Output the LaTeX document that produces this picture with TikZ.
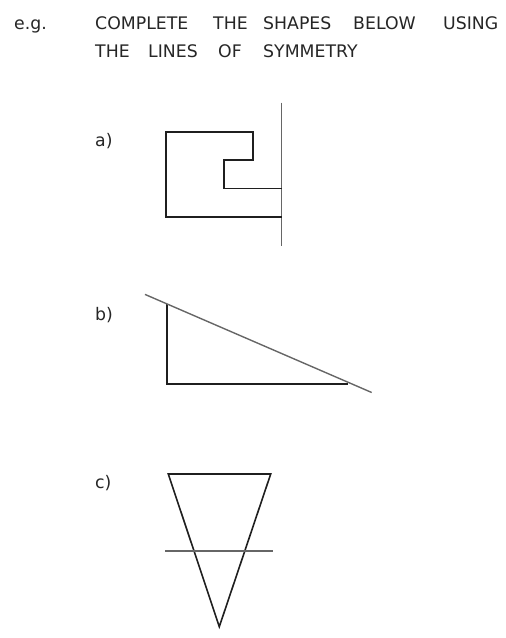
\documentclass[tikz,border=0pt]{standalone}
\usepackage{fontspec}
\setmainfont{DejaVu Sans}
\begin{document}
\begin{tikzpicture}[x=1pt,y=-1pt,
  word/.style={anchor=base west,inner sep=0pt,font=\fontsize{17.3}{20}\selectfont,text=black!85},
  outline/.style={draw=black!88,line width=1.6pt,line join=miter},
  symline/.style={draw=black!60,line width=1.4pt}]
\useasboundingbox (0,0) rectangle (506,638);
% title
\node[word] (eg) at (14,29.3) {e.g.};
\node[word] (w1) at (95,29.3) {COMPLETE};
\node[word] (w2) at (213,29.3) {THE};
\node[word] (w3) at (263,29.3) {SHAPES};
\node[word] (w4) at (353,29.3) {BELOW};
\node[word] (w5) at (443,29.3) {USING};
\node[word] (w6) at (95,57.3) {THE};
\node[word] (w7) at (148,57.3) {LINES};
\node[word] (w8) at (218,57.3) {OF};
\node[word] (w9) at (263,57.3) {SYMMETRY};
% labels
\node[word] (la) at (95,146) {a)};
\node[word] (lb) at (95,320) {b)};
\node[word] (lc) at (95,488) {c)};
% a)
\draw[symline] (281.7,102.7) -- (281.7,246);
\draw[outline] (281.7,188.3) -- (224,188.3) -- (224,160) -- (252.7,160) -- (252.7,131.7) -- (166,131.7) -- (166,216.7) -- (281.7,216.7);
% b)
\draw[outline] (166.7,304) -- (166.7,384) -- (348,384);
\draw[symline] (145,294.4) -- (371.7,392.5);
% c)
\draw[outline] (168.3,474) -- (270.7,474) -- (219.3,626.7) -- cycle;
\draw[symline] (165,551) -- (272.7,551);
\end{tikzpicture}
\end{document}
